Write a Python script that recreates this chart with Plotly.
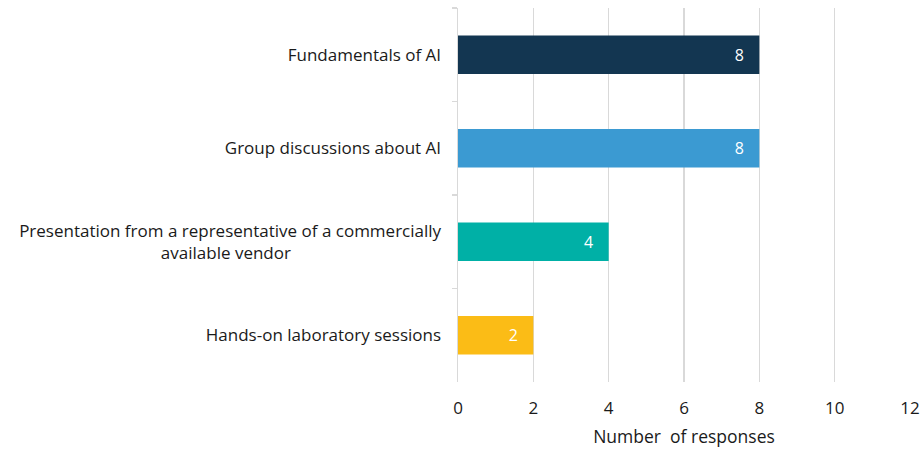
import plotly.graph_objects as go

NB = "\u00a0"
categories = [
    "Fundamentals of AI",
    "Group discussions about AI",
    "Presentation from a representative of a commercially<br>available vendor" + NB * 34,
    "Hands-on laboratory sessions",
]
responses = [8, 8, 4, 2]
bar_colors = ["#133651", "#3b9ad2", "#00b0a6", "#fbbc16"]
x_ticks = [0, 2, 4, 6, 8, 10, 12]

FONT = "Open Sans"

fig = go.Figure(
    go.Bar(
        x=responses,
        y=categories,
        orientation="h",
        marker=dict(color=bar_colors, line=dict(width=0)),
        width=0.41,
        text=[str(v) + NB * 3 for v in responses],
        textposition="inside",
        insidetextanchor="end",
        textfont=dict(color="white", size=16, family=FONT),
        hoverinfo="skip",
    )
)

fig.update_layout(
    width=922,
    height=452,
    margin=dict(l=458, r=12, t=8, b=70, autoexpand=False),
    plot_bgcolor="white",
    paper_bgcolor="white",
    font=dict(family=FONT, size=17, color="#1a1a1a"),
    showlegend=False,
    xaxis=dict(
        range=[0, 12],
        tickvals=x_ticks,
        showgrid=True,
        gridcolor="#d9d9d9",
        gridwidth=1.5,
        zeroline=False,
        showline=False,
        ticks="",
        ticklabelstandoff=14,
        tickfont=dict(size=17, family=FONT),
        title=dict(text="Number  of responses", font=dict(size=17.5, family=FONT), standoff=12),
    ),
    yaxis=dict(
        autorange="reversed",
        showline=True,
        linecolor="#d9d9d9",
        linewidth=1.5,
        ticks="outside",
        tickson="boundaries",
        ticklen=5,
        tickcolor="#d9d9d9",
        tickwidth=1.5,
        ticklabelstandoff=12,
        tickfont=dict(size=17, family=FONT),
        showgrid=False,
    ),
)

fig.write_html(
    "out.html",
    config={"displayModeBar": False, "staticPlot": True},
    post_script="document.body.style.margin='0';document.body.style.overflow='hidden';",
)
